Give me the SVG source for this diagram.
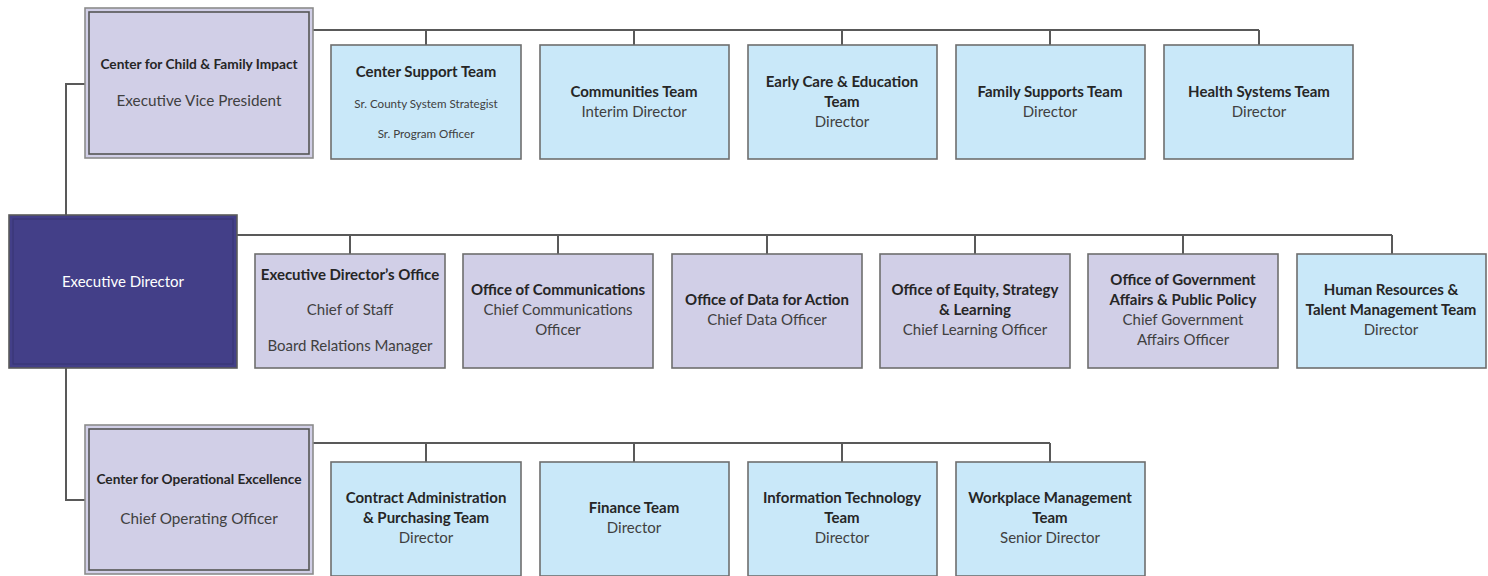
<svg xmlns="http://www.w3.org/2000/svg" width="1488" height="576" viewBox="0 0 1488 576">
  <style>
    .conn { fill: none; stroke: #595959; stroke-width: 2; }
    .team { fill: #c9e8f9; stroke: #6e6e6e; stroke-width: 1.6; }
    .office { fill: #d1cfe7; stroke: #6e6e6e; stroke-width: 1.6; }
    .center-outer { fill: #d1cfe7; stroke: #8c8c8c; stroke-width: 1.6; }
    .center-inner { fill: none; stroke: #555555; stroke-width: 1.6; }
    .exec-outer { fill: #433f88; stroke: #5a5a5a; stroke-width: 1.6; }
    .exec-inner { fill: none; stroke: #3a3676; stroke-width: 1.2; }
    text { font-family: Lato, "Liberation Sans", sans-serif; text-anchor: middle; }
    .t { font-size: 15px; font-weight: bold; fill: #262626; }
    .s { font-size: 15px; fill: #404040; }
    .ct { font-size: 13.7px; font-weight: bold; fill: #262626; }
    .cs { font-size: 15.3px; fill: #404040; }
    .xs { font-size: 11.6px; fill: #404040; }
    .w { font-size: 15px; fill: #ffffff; }
  </style>

  <!-- reporting lines -->
  <g id="connectors">
    <!-- executive spine -->
    <polyline class="conn" points="85,84 66,84 66,215"/>
    <polyline class="conn" points="66,368 66,500 85,500"/>
    <!-- child & family impact teams -->
    <line class="conn" x1="313" y1="30" x2="1259" y2="30"/>
    <line class="conn" x1="426" y1="30" x2="426" y2="45"/>
    <line class="conn" x1="634" y1="30" x2="634" y2="45"/>
    <line class="conn" x1="842" y1="30" x2="842" y2="45"/>
    <line class="conn" x1="1050" y1="30" x2="1050" y2="45"/>
    <line class="conn" x1="1259" y1="30" x2="1259" y2="45"/>
    <!-- executive offices -->
    <line class="conn" x1="237" y1="235" x2="1392" y2="235"/>
    <line class="conn" x1="350" y1="235" x2="350" y2="254"/>
    <line class="conn" x1="558" y1="235" x2="558" y2="254"/>
    <line class="conn" x1="767" y1="235" x2="767" y2="254"/>
    <line class="conn" x1="975" y1="235" x2="975" y2="254"/>
    <line class="conn" x1="1183" y1="235" x2="1183" y2="254"/>
    <line class="conn" x1="1392" y1="235" x2="1392" y2="254"/>
    <!-- operational excellence teams -->
    <line class="conn" x1="313" y1="443" x2="1050" y2="443"/>
    <line class="conn" x1="426" y1="443" x2="426" y2="462"/>
    <line class="conn" x1="634" y1="443" x2="634" y2="462"/>
    <line class="conn" x1="842" y1="443" x2="842" y2="462"/>
    <line class="conn" x1="1050" y1="443" x2="1050" y2="462"/>
  </g>

  <!-- centers -->
  <g id="center-child-family">
    <rect class="center-outer" x="85" y="8" width="228" height="150"/>
    <rect class="center-inner" x="89" y="12" width="220" height="142"/>
    <text class="ct" x="199" y="69">Center for Child &amp; Family Impact</text>
    <text class="cs" x="199" y="106">Executive Vice President</text>
  </g>
  <g id="center-operational">
    <rect class="center-outer" x="85" y="425" width="228" height="149"/>
    <rect class="center-inner" x="89" y="429" width="220" height="141"/>
    <text class="ct" x="199" y="484">Center for Operational Excellence</text>
    <text class="cs" x="199" y="524">Chief Operating Officer</text>
  </g>

  <!-- executive director -->
  <g id="executive-director">
    <rect class="exec-outer" x="9" y="215" width="228" height="153"/>
    <rect class="exec-inner" x="13" y="219" width="220" height="145"/>
    <text class="w" x="123" y="287">Executive Director</text>
  </g>

  <!-- child & family impact teams -->
  <g id="center-support-team">
    <rect class="team" x="331" y="45" width="190" height="114"/>
    <text class="t" x="426" y="77">Center Support Team</text>
    <text class="xs" x="426" y="108">Sr. County System Strategist</text>
    <text class="xs" x="426" y="138">Sr. Program Officer</text>
  </g>
  <g id="communities-team">
    <rect class="team" x="540" y="45" width="189" height="114"/>
    <text class="t" x="634" y="97">Communities Team</text>
    <text class="s" x="634" y="117">Interim Director</text>
  </g>
  <g id="early-care-team">
    <rect class="team" x="748" y="45" width="189" height="114"/>
    <text class="t" x="842" y="87">Early Care &amp; Education</text>
    <text class="t" x="842" y="107">Team</text>
    <text class="s" x="842" y="127">Director</text>
  </g>
  <g id="family-supports-team">
    <rect class="team" x="956" y="45" width="189" height="114"/>
    <text class="t" x="1050" y="97">Family Supports Team</text>
    <text class="s" x="1050" y="117">Director</text>
  </g>
  <g id="health-systems-team">
    <rect class="team" x="1164" y="45" width="189" height="114"/>
    <text class="t" x="1259" y="97">Health Systems Team</text>
    <text class="s" x="1259" y="117">Director</text>
  </g>

  <!-- executive offices -->
  <g id="executive-directors-office">
    <rect class="office" x="255" y="254" width="190" height="114"/>
    <text class="t" x="350" y="280">Executive Director’s Office</text>
    <text class="s" x="350" y="315">Chief of Staff</text>
    <text class="s" x="350" y="351">Board Relations Manager</text>
  </g>
  <g id="office-communications">
    <rect class="office" x="463" y="254" width="190" height="114"/>
    <text class="t" x="558" y="295">Office of Communications</text>
    <text class="s" x="558" y="315">Chief Communications</text>
    <text class="s" x="558" y="335">Officer</text>
  </g>
  <g id="office-data">
    <rect class="office" x="672" y="254" width="190" height="114"/>
    <text class="t" x="767" y="305">Office of Data for Action</text>
    <text class="s" x="767" y="325">Chief Data Officer</text>
  </g>
  <g id="office-equity">
    <rect class="office" x="880" y="254" width="190" height="114"/>
    <text class="t" x="975" y="295">Office of Equity, Strategy</text>
    <text class="t" x="975" y="315">&amp; Learning</text>
    <text class="s" x="975" y="335">Chief Learning Officer</text>
  </g>
  <g id="office-government-affairs">
    <rect class="office" x="1088" y="254" width="190" height="114"/>
    <text class="t" x="1183" y="285">Office of Government</text>
    <text class="t" x="1183" y="305">Affairs &amp; Public Policy</text>
    <text class="s" x="1183" y="325">Chief Government</text>
    <text class="s" x="1183" y="345">Affairs Officer</text>
  </g>
  <g id="human-resources-team">
    <rect class="team" x="1297" y="254" width="189" height="114"/>
    <text class="t" x="1391" y="295">Human Resources &amp;</text>
    <text class="t" x="1391" y="315">Talent Management Team</text>
    <text class="s" x="1391" y="335">Director</text>
  </g>

  <!-- operational excellence teams -->
  <g id="contract-purchasing-team">
    <rect class="team" x="331" y="462" width="190" height="114"/>
    <text class="t" x="426" y="503">Contract Administration</text>
    <text class="t" x="426" y="523">&amp; Purchasing Team</text>
    <text class="s" x="426" y="543">Director</text>
  </g>
  <g id="finance-team">
    <rect class="team" x="540" y="462" width="189" height="114"/>
    <text class="t" x="634" y="513">Finance Team</text>
    <text class="s" x="634" y="533">Director</text>
  </g>
  <g id="information-technology-team">
    <rect class="team" x="748" y="462" width="189" height="114"/>
    <text class="t" x="842" y="503">Information Technology</text>
    <text class="t" x="842" y="523">Team</text>
    <text class="s" x="842" y="543">Director</text>
  </g>
  <g id="workplace-management-team">
    <rect class="team" x="956" y="462" width="189" height="114"/>
    <text class="t" x="1050" y="503">Workplace Management</text>
    <text class="t" x="1050" y="523">Team</text>
    <text class="s" x="1050" y="543">Senior Director</text>
  </g>
</svg>
